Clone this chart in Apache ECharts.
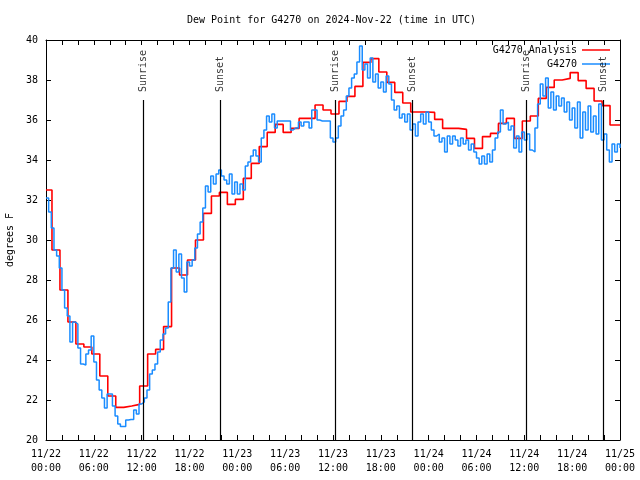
<!DOCTYPE html>
<html><head><meta charset="utf-8">
<script src="https://cdn.jsdelivr.net/npm/echarts@6/dist/echarts.min.js"></script>
<style>html,body{margin:0;padding:0;background:#fff}#c{width:640px;height:480px}</style>
</head><body><div id="c"></div>
<script>
// ---- data ----
const titleText = "Dew Point for G4270 on 2024-Nov-22 (time in UTC)";
const xTickLabels = ["11/22\n00:00","11/22\n06:00","11/22\n12:00","11/22\n18:00","11/23\n00:00","11/23\n06:00","11/23\n12:00","11/23\n18:00","11/24\n00:00","11/24\n06:00","11/24\n12:00","11/24\n18:00","11/25\n00:00"];
// hourly analysis values; each step begins at hh:45 (first at 00:00)
const analysisStepOffsetHours = 0.25;
const analysisValues = [32.5,29.5,27.5,25.9,24.8,24.65,24.3,23.2,22.2,21.63,
 21.7,21.78,22.7,24.3,24.53,25.67,28.6,28.25,29.0,30.0,
 31.33,32.2,32.38,31.78,32.03,33.08,33.83,34.67,35.38,35.78,
 35.38,35.58,36.08,36.08,36.75,36.5,36.3,36.93,37.18,37.68,
 38.88,39.07,38.4,37.88,37.38,36.85,36.4,36.4,36.38,36.03,
 35.58,35.58,35.53,35.08,34.58,35.17,35.33,35.83,36.08,35.08,
 35.95,36.2,37.08,37.63,38.0,38.08,38.37,37.97,37.58,36.95,
 36.72,35.75,35.75];
// observations every 20 minutes from 11/22 00:00
const obsStepMinutes = 20;
const obsValues = [
 32.1,31.4,30.6, 29.5,29.2,28.6, 27.5,26.6,26.2, 24.9,25.9,25.8,
 24.6,23.8,23.75, 24.3,24.5,25.2, 23.9,23.0,22.5, 22.1,21.6,22.3,
 22.3,21.7,21.2, 20.8,20.67,20.67, 21.0,21.03,21.03, 21.5,21.3,21.8,
 21.9,22.1,22.5, 23.3,23.5,23.8, 24.4,25.0,25.3, 25.6,26.9,28.6,
 29.5,28.4,29.3, 28.1,27.4,28.9, 28.7,29.0,29.6, 30.3,30.9,31.6,
 32.7,32.4,33.2, 32.8,33.3,33.5, 33.2,33.0,32.8, 33.3,32.3,32.9,
 32.3,32.8,32.5, 33.7,33.9,34.2, 34.5,34.2,33.9, 35.1,35.5,36.2,
 35.9,36.3,35.6, 35.95,35.95,35.95, 35.95,35.95,35.5, 35.6,35.6,35.9,
 35.7,35.9,35.9, 35.6,36.5,36.5, 36.0,35.95,35.95, 35.95,35.95,35.1,
 34.9,35.1,35.7, 36.2,36.5,37.2, 37.6,38.1,38.3, 38.9,39.7,38.5,
 38.8,38.1,39.1, 37.9,38.3,37.6, 37.9,37.4,38.2, 37.8,37.0,36.5,
 36.7,36.1,36.3, 35.9,36.3,35.5, 35.8,35.2,35.9, 36.3,35.8,36.4,
 35.9,35.5,35.2, 35.3,34.9,35.1, 34.4,35.2,34.8, 35.2,35.0,34.7,
 35.1,34.8,35.0, 34.5,34.8,34.4, 34.1,33.8,34.2, 33.8,34.3,33.9,
 34.5,35.1,35.4, 36.5,35.8,35.9, 35.5,35.7,34.6, 35.2,34.4,35.4,
 35.0,35.3,34.5, 34.4,35.6,36.8, 37.8,37.2,38.1, 36.6,37.4,36.5,
 37.2,36.7,37.1, 36.4,36.9,36.0, 36.6,35.6,36.9, 35.1,36.4,35.5,
 36.7,35.4,36.2, 35.3,36.8,35.0, 35.3,34.5,33.9, 34.8,34.4,34.8,
 34.6];
const sunEventNames = ["Sunrise","Sunset","Sunrise","Sunset","Sunrise","Sunset"];
const sunEventHours = [12.2,21.87,36.3,45.95,60.25,69.9];
const sunLineTop = 37;
const seriesNames = ["G4270 Analysis","G4270"];

// ---- build ----
const FONT = "DejaVu Sans Mono";
const analysisData = analysisValues.map((v,k)=>[k===0?0:Math.min(72,k-analysisStepOffsetHours), v]);
analysisData.push([72, analysisValues[analysisValues.length-1]]);
const obsData = obsValues.map((v,k)=>[k*obsStepMinutes/60, v]);
const sunLines = sunEventHours.map(t=>[{coord:[t,20]},{coord:[t,sunLineTop]}]);
const sunLabels = sunEventHours.map((t,i)=>({value:[t,sunLineTop], name:sunEventNames[i]}));

const axisCommon = {
  type:'value', min:0, max:72, interval:6,
  axisLine:{show:true, onZero:false, lineStyle:{color:'#000', width:1}},
  axisTick:{show:true, inside:true, length:5, lineStyle:{color:'#000'}},
  minorTick:{show:true, splitNumber:3, length:5, lineStyle:{color:'#000'}},
  splitLine:{show:false}
};
const yCommon = {
  type:'value', min:20, max:40, interval:2,
  axisLine:{show:true, onZero:false, lineStyle:{color:'#000', width:1}},
  axisTick:{show:true, inside:true, length:5, lineStyle:{color:'#000'}},
  splitLine:{show:false}
};
const chart = echarts.init(document.getElementById('c'), null, {renderer:'canvas'});
chart.setOption({
  animation:false,
  backgroundColor:'#fff',
  title:{text:titleText, left:187, top:15, padding:0,
    textStyle:{fontFamily:FONT, fontSize:10, fontWeight:'normal', color:'#000'}},
  legend:{orient:'vertical', right:30, top:44, align:'right', itemGap:2, padding:0,
    itemWidth:28, itemHeight:1.5, icon:'rect',
    textStyle:{fontFamily:FONT, fontSize:10, color:'#000', lineHeight:12},
    data:seriesNames},
  grid:{left:46, right:20, top:40, bottom:40, containLabel:false, outerBoundsMode:'none'},
  xAxis:[
    Object.assign({}, axisCommon, {position:'bottom',
      axisLabel:{show:true, margin:7, fontFamily:FONT, fontSize:10, color:'#000', lineHeight:14,
        formatter:(v)=>xTickLabels[Math.round(v/6)]}}),
    Object.assign({}, axisCommon, {position:'top', axisLabel:{show:false}})
  ],
  yAxis:[
    Object.assign({}, yCommon, {position:'left', name:'degrees F', nameLocation:'middle', nameGap:31,
      nameRotate:90, nameTextStyle:{fontFamily:FONT, fontSize:10, color:'#000'},
      axisLabel:{show:true, margin:8, fontFamily:FONT, fontSize:10, color:'#000'}}),
    Object.assign({}, yCommon, {position:'right', axisLabel:{show:false}})
  ],
  series:[
    {name:seriesNames[0], type:'line', step:'end', data:analysisData, showSymbol:false,
     lineStyle:{color:'#ff0000', width:1.6}, itemStyle:{color:'#ff0000'}, z:2},
    {name:seriesNames[1], type:'line', step:'end', data:obsData, showSymbol:false,
     lineStyle:{color:'#1a8cff', width:1.5}, itemStyle:{color:'#1a8cff'}, z:3},
    {name:'sun', type:'scatter', data:sunLabels, symbolSize:0, z:4, silent:true,
     label:{show:true, formatter:(p)=>p.name, position:'top', distance:8, rotate:90,
       align:'left', verticalAlign:'middle', fontFamily:FONT, fontSize:10, color:'#000'},
     markLine:{silent:true, symbol:['none','none'], label:{show:false},
       lineStyle:{color:'#000', width:1.2, type:'solid'}, data:sunLines}}
  ]
});
</script></body></html>
